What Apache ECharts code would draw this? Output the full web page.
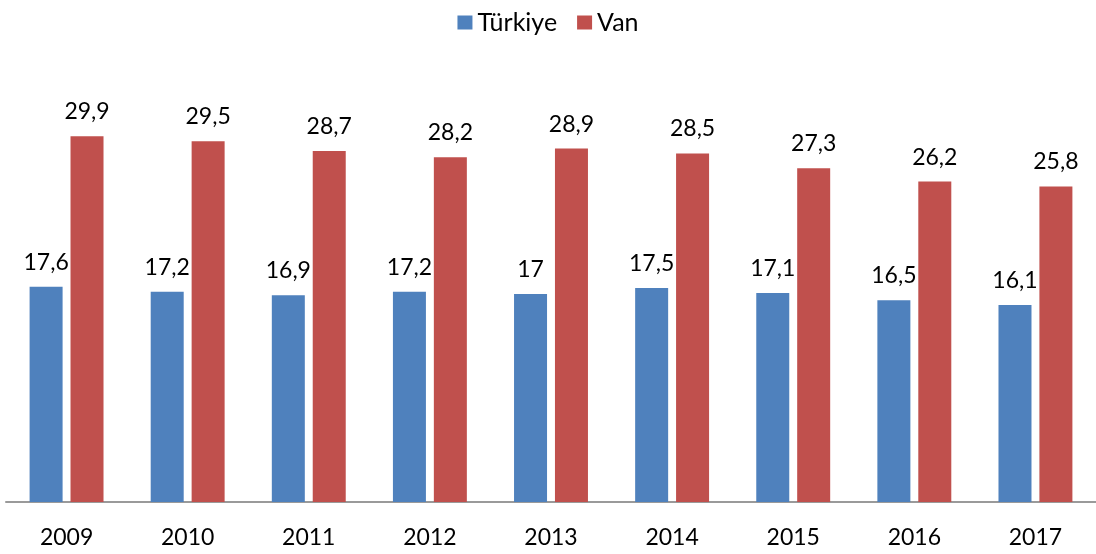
<!DOCTYPE html>
<html>
<head>
<meta charset="utf-8">
<script src="https://cdn.jsdelivr.net/npm/echarts@6/dist/echarts.min.js"></script>
<style>
  html, body { margin: 0; padding: 0; background: #fff; }
  #main { width: 1096px; height: 554px; }
</style>
</head>
<body>
<div id="main"></div>
<script>
// yıllar ve değerler
var years = ['2009', '2010', '2011', '2012', '2013', '2014', '2015', '2016', '2017'];
var turkiye = [17.6, 17.2, 16.9, 17.2, 17, 17.5, 17.1, 16.5, 16.1];
var van = [29.9, 29.5, 28.7, 28.2, 28.9, 28.5, 27.3, 26.2, 25.8];
var seriesNames = ['Türkiye', 'Van'];

var fontName = 'Lato';

function commaLabel(p) {
    return String(p.value).replace('.', ',');
}

var myChart = echarts.init(document.getElementById('main'));
var option = {
    backgroundColor: '#ffffff',
    textStyle: { fontFamily: fontName },
    legend: {
        data: seriesNames,
        top: 5,
        left: 'center',
        itemWidth: 15,
        itemHeight: 14,
        itemGap: 20,
        icon: 'rect',
        textStyle: { fontSize: 25, color: '#000', fontFamily: fontName }
    },
    grid: {
        left: 6,
        top: 74,
        width: 1096,
        height: 428,
        containLabel: false
    },
    xAxis: {
        type: 'category',
        data: years,
        axisLine: { lineStyle: { color: '#9a9a9a', width: 2 } },
        axisTick: { show: false },
        axisLabel: { fontSize: 23, color: '#000', margin: 24, fontFamily: fontName }
    },
    yAxis: {
        type: 'value',
        min: 0,
        max: 35,
        show: false,
        splitLine: { show: false }
    },
    series: [
        {
            name: seriesNames[0],
            type: 'bar',
            data: turkiye,
            barWidth: 33,
            barGap: '24%',
            itemStyle: { color: '#4F81BD' },
            label: {
                show: true,
                position: 'top',
                distance: 13,
                fontSize: 23,
                color: '#000',
                fontFamily: fontName,
                formatter: commaLabel
            }
        },
        {
            name: seriesNames[1],
            type: 'bar',
            data: van,
            barWidth: 33,
            barGap: '24%',
            itemStyle: { color: '#C0504D' },
            label: {
                show: true,
                position: 'top',
                distance: 13,
                fontSize: 23,
                color: '#000',
                fontFamily: fontName,
                formatter: commaLabel
            }
        }
    ]
};
myChart.setOption(option);
</script>
</body>
</html>
